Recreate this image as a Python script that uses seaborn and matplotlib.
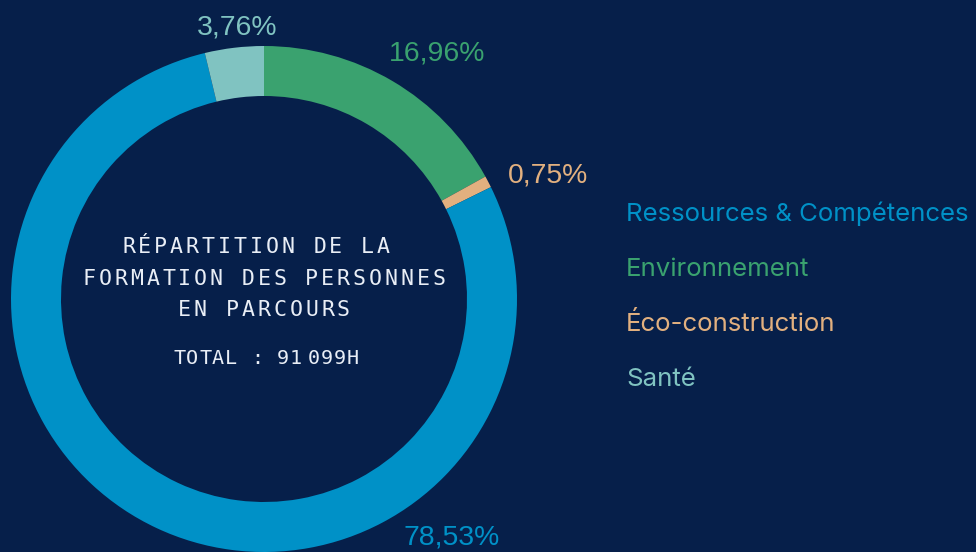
import matplotlib
matplotlib.use("Agg")
import matplotlib.pyplot as plt
import seaborn as sns

# ---- data ----
categories = ["Ressources & Compétences", "Environnement", "Éco-construction", "Santé"]
values = [78.53, 16.96, 0.75, 3.76]
value_labels = ["78,53%", "16,96%", "0,75%", "3,76%"]
pie_order = [1, 2, 0, 3]  # clockwise from 12 o'clock
title_lines = ["RÉPARTITION DE LA ", "FORMATION DES PERSONNES", "EN PARCOURS"]
total_text = "TOTAL : 91\u2009099H"

BG = "#061F4A"
palette = sns.color_palette(["#0091C7", "#3AA26F", "#E2B07F", "#80C3C1"])

sns.set_theme(style="white")
plt.rcParams["font.family"] = ["Liberation Sans", "DejaVu Sans"]

W, H = 976, 552
fig = plt.figure(figsize=(W / 100, H / 100), dpi=100, facecolor=BG)
ax = fig.add_axes([0, 0, 1, 1])
ax.set_facecolor(BG)

cx, cy, R, ring = 264, H - 299, 253, 50
ax.pie([values[i] for i in pie_order],
       colors=[palette[i] for i in pie_order],
       startangle=90, counterclock=False,
       radius=R, center=(cx, cy),
       wedgeprops=dict(width=ring, linewidth=0, antialiased=True))
ax.set_xlim(0, W)
ax.set_ylim(0, H)
ax.set_aspect("equal")
ax.set_axis_off()

# percentage labels
label_pos = {0: (452, 537), 1: (437, 54), 2: (548, 176), 3: (237, 27)}
for i, lab in enumerate(value_labels):
    x, y = label_pos[i]
    ax.text(x, H - y, lab, color=palette[i], fontsize=20.4,
            family=["Liberation Sans", "DejaVu Sans"], ha="center", va="center")

# legend (as coloured text)
for i, cat in enumerate(categories):
    ax.text(626, H - (221 + 55 * i), cat, color=palette[i], fontsize=18.6,
            family=["Inter", "DejaVu Sans"], ha="left", va="baseline")

# centre text with letter spacing
mono = ["DejaVu Sans Mono", "DejaVu Sans"]
pitch = 15.9
baselines = [253, 285, 316]
for line, by in zip(title_lines, baselines):
    n = len(line)
    x0 = cx - n * pitch / 2
    for j, ch in enumerate(line):
        if ch == " ":
            continue
        ax.text(x0 + pitch * (j + 0.5), H - by, ch, color="#E9EEF6",
                fontsize=15.5, family=mono, ha="center", va="baseline")

pitch2 = 12.9
xs = []
x = 173
for ch in total_text:
    w = pitch2 * (0.45 if ch == "\u2009" else 1)
    xs.append((ch, x + w / 2))
    x += w
for ch, xc in xs:
    if ch in (" ", "\u2009"):
        continue
    ax.text(xc, H - 364, ch, color="#E9EEF6",
            fontsize=14.5, family=mono, ha="center", va="baseline")

fig.savefig("out.png", dpi=100, facecolor=BG)
